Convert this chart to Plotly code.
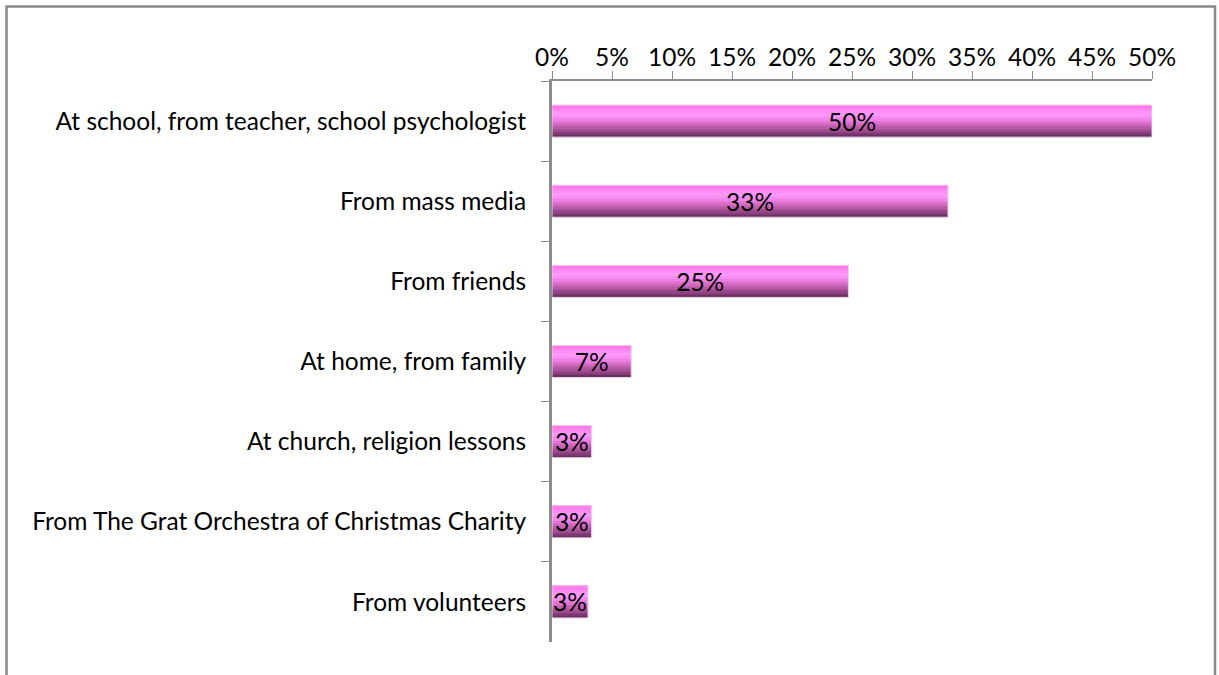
import plotly.graph_objects as go

# Where respondents heard about the topic (share of answers, %)
sources = [
    "At school, from teacher, school psychologist",
    "From mass media",
    "From friends",
    "At home, from family",
    "At church, religion lessons",
    "From The Grat Orchestra of Christmas Charity",
    "From volunteers",
]
shares = [50.0, 33.0, 24.7, 6.6, 3.3, 3.3, 3.0]

x_ticks = list(range(0, 55, 5))
x_tick_labels = [f"{t}%" for t in x_ticks]

FONT = "Lato"
FONT_SIZE = 24.5
AXIS_GREY = "#8c8c8c"

# vertical shading of the bars, top to bottom
shade_stops = [
    (0.00, (255, 110, 228)),
    (0.30, (255, 155, 255)),
    (0.50, (236, 124, 226)),
    (0.70, (190, 92, 170)),
    (0.88, (140, 64, 128)),
    (1.00, (100, 42, 92)),
]


def shade(t):
    for (t0, c0), (t1, c1) in zip(shade_stops, shade_stops[1:]):
        if t <= t1:
            f = (t - t0) / (t1 - t0) if t1 > t0 else 0
            r, g, b = (round(a + (b_ - a) * f) for a, b_ in zip(c0, c1))
            return f"rgb({r},{g},{b})"
    r, g, b = shade_stops[-1][1]
    return f"rgb({r},{g},{b})"


BAR_W = 0.4
N_STRIPS = 20
strip_w = BAR_W / N_STRIPS

fig = go.Figure()
for i in range(N_STRIPS):
    fig.add_trace(go.Bar(
        x=shares, y=sources, orientation="h",
        width=strip_w * 1.02, offset=-BAR_W / 2 + i * strip_w,
        marker=dict(color=shade((i + 0.5) / N_STRIPS), line=dict(width=0)),
        hoverinfo="skip", showlegend=False,
    ))

# light outline around each bar, carrying the centred value labels
fig.add_trace(go.Bar(
    x=shares, y=sources, orientation="h",
    width=BAR_W, offset=-BAR_W / 2,
    marker=dict(color="rgba(0,0,0,0)", line=dict(width=1, color="#ecd2ec")),
    texttemplate="%{x:.0f}%", textposition="inside",
    insidetextanchor="middle", constraintext="none", textangle=0,
    insidetextfont=dict(family=FONT, size=FONT_SIZE, color="#000000"),
    hoverinfo="skip", showlegend=False,
))

fig.update_layout(
    width=1219, height=675,
    margin=dict(l=552, r=67, t=81, b=33),
    paper_bgcolor="white", plot_bgcolor="white",
    barmode="overlay",
    font=dict(family=FONT, size=FONT_SIZE, color="#000000"),
    xaxis=dict(
        side="top", range=[0, 50], tickvals=x_ticks, ticktext=x_tick_labels,
        showgrid=False, zeroline=False,
        showline=True, linecolor=AXIS_GREY, linewidth=2,
        ticks="outside", ticklen=8, tickcolor=AXIS_GREY, tickwidth=1,
        ticklabelstandoff=-5,
        tickfont=dict(family=FONT, size=FONT_SIZE, color="#000000"),
    ),
    yaxis=dict(
        categoryorder="array", categoryarray=sources,
        range=[len(sources) - 0.5, -0.5],
        showgrid=False, zeroline=False,
        showline=True, linecolor=AXIS_GREY, linewidth=3,
        ticks="outside", ticklen=8, tickcolor=AXIS_GREY, tickwidth=1,
        tickson="boundaries", ticklabelstandoff=18,
        tickfont=dict(family=FONT, size=FONT_SIZE, color="#000000"),
    ),
    shapes=[dict(
        type="rect", xref="paper", yref="paper",
        x0=(6.5 - 552) / 600, x1=(1215 - 552) / 600,
        y0=(642 - 720) / 561, y1=(642 - 6.5) / 561,
        line=dict(color="#888888", width=2.5), fillcolor="rgba(0,0,0,0)",
        layer="below",
    )],
)

fig.write_html("out.html")
